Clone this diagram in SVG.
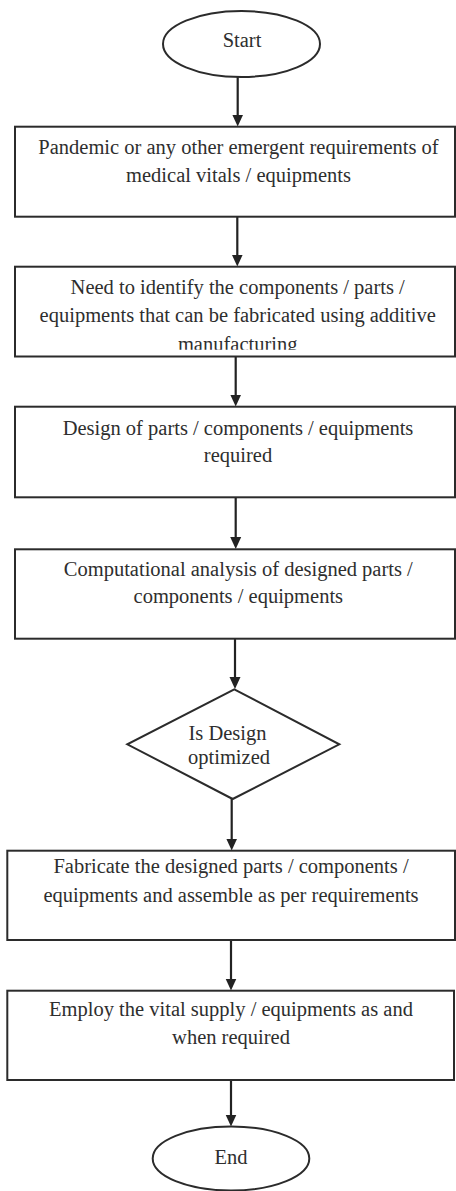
<svg xmlns="http://www.w3.org/2000/svg" width="456" height="1191" viewBox="0 0 456 1191">
  <style>
    .shape { fill: #ffffff; stroke: #2b2b2b; stroke-width: 2; }
    .lbl { font-family: "Liberation Serif", "Times New Roman", serif; font-size: 20.5px; fill: #2e2e2e; text-anchor: middle; }
    .conn { stroke: #222222; stroke-width: 2.2; fill: none; marker-end: url(#arrow); }
  </style>
  <defs>
    <marker id="arrow" viewBox="0 0 12 12" refX="8" refY="6" markerWidth="12" markerHeight="12" markerUnits="userSpaceOnUse" orient="auto">
      <path d="M0,0.5 L12,6 L0,11.5 z" fill="#222222"/>
    </marker>
    <clipPath id="clipManu">
      <rect x="0" y="330" width="456" height="19.8"/>
    </clipPath>
  </defs>
  <rect width="456" height="1191" fill="#ffffff"/>

  <g id="connectors">
    <line class="conn" x1="237.7" y1="77" x2="237.7" y2="122.5"/>
    <line class="conn" x1="237.3" y1="217" x2="237.3" y2="262.5"/>
    <line class="conn" x1="235.7" y1="357" x2="235.7" y2="402.5"/>
    <line class="conn" x1="235.7" y1="498" x2="235.7" y2="545"/>
    <line class="conn" x1="235" y1="639" x2="235" y2="685"/>
    <line class="conn" x1="231.7" y1="799" x2="231.7" y2="846.5"/>
    <line class="conn" x1="231" y1="940.5" x2="231" y2="986.5"/>
    <line class="conn" x1="231" y1="1080.5" x2="231" y2="1122.5"/>
  </g>

  <g id="start">
    <ellipse class="shape" cx="241.5" cy="44" rx="78.5" ry="33"/>
    <text class="lbl" x="242" y="46.5">Start</text>
  </g>

  <g id="pandemic">
    <rect class="shape" x="15" y="126.7" width="440" height="90"/>
    <text class="lbl" x="238.5" y="153.5">Pandemic or any other emergent requirements of</text>
    <text class="lbl" x="238.5" y="181.7">medical vitals / equipments</text>
  </g>

  <g id="identify">
    <rect class="shape" x="15" y="266.7" width="440" height="89.8"/>
    <text class="lbl" x="237.7" y="294">Need to identify the components / parts /</text>
    <text class="lbl" x="237.7" y="322">equipments that can be fabricated using additive</text>
    <text class="lbl" x="237.7" y="350.5" clip-path="url(#clipManu)">manufacturing</text>
  </g>

  <g id="design">
    <rect class="shape" x="15" y="406.7" width="440" height="90.6"/>
    <text class="lbl" x="238" y="435">Design of parts / components / equipments</text>
    <text class="lbl" x="238" y="461.7">required</text>
  </g>

  <g id="analysis">
    <rect class="shape" x="15" y="549.3" width="440" height="89.4"/>
    <text class="lbl" x="238.3" y="576">Computational analysis of designed parts /</text>
    <text class="lbl" x="238.3" y="603.3">components / equipments</text>
  </g>

  <g id="decision">
    <polygon class="shape" points="234.3,689.3 339.3,744.3 232.7,799 127.3,744.3"/>
    <text class="lbl" x="227.5" y="740">Is Design</text>
    <text class="lbl" x="229" y="764">optimized</text>
  </g>

  <g id="fabricate">
    <rect class="shape" x="7.3" y="850.7" width="447.7" height="89.3"/>
    <text class="lbl" x="231" y="873.3">Fabricate the designed parts / components /</text>
    <text class="lbl" x="231" y="901.7">equipments and assemble as per requirements</text>
  </g>

  <g id="employ">
    <rect class="shape" x="7.3" y="990.7" width="446.7" height="89.3"/>
    <text class="lbl" x="231" y="1016">Employ the vital supply / equipments as and</text>
    <text class="lbl" x="231" y="1044">when required</text>
  </g>

  <g id="end">
    <ellipse class="shape" cx="231" cy="1158.5" rx="78.3" ry="32"/>
    <text class="lbl" x="231" y="1163.5">End</text>
  </g>
</svg>
